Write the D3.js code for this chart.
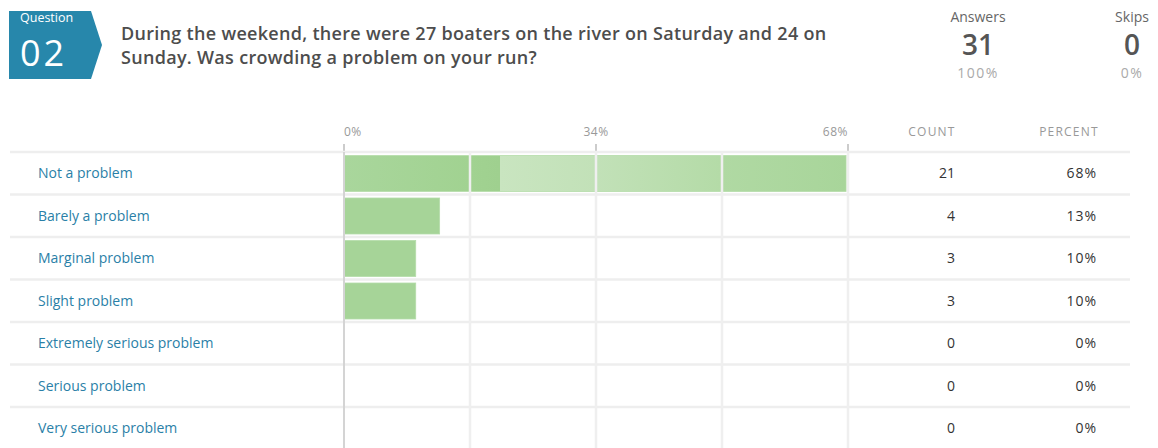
<!DOCTYPE html>
<html>
<head>
<meta charset="utf-8">
<script src="https://cdn.jsdelivr.net/npm/d3@7"></script>
<style>
  body { margin: 0; background: #fff; }
  svg { display: block; }
</style>
</head>
<body>
<script>
let categories = ["Not a problem", "Barely a problem", "Marginal problem", "Slight problem",
                  "Extremely serious problem", "Serious problem", "Very serious problem"];
let counts = [21, 4, 3, 3, 0, 0, 0];
let percents = [68, 13, 10, 10, 0, 0, 0];
let tickValues = [0, 0.34, 0.68];
let answers = 31, skips = 0;
let questionLines = ["During the weekend, there were 27 boaters on the river on Saturday and 24 on",
                     "Sunday. Was crowding a problem on your run?"];

let width = 1158, height = 448;
let font = "'Open Sans', sans-serif";

let svg = d3.select("body").append("svg")
    .attr("width", width)
    .attr("height", height)
    .attr("font-family", font);

let total = d3.sum(counts);

let x = d3.scaleLinear().domain([0, 0.68]).range([344, 848]);
let y = d3.scaleBand().domain(categories).range([152, 152 + 7 * 42.5]);

// gradient seen on the first bar
let grad = svg.append("defs").append("linearGradient")
    .attr("id", "g0").attr("x1", 0).attr("x2", 1).attr("y1", 0).attr("y2", 0);
[[0, "#a9d69c"], [0.25, "#a1d291"], [0.31, "#9fd08f"], [0.311, "#c9e5c0"],
 [0.5, "#c2e1b8"], [0.75, "#b4dba7"], [0.751, "#b0d9a3"], [1, "#a8d59a"]]
  .forEach(function(s) { grad.append("stop").attr("offset", s[0]).attr("stop-color", s[1]); });

// badge
svg.append("path")
    .attr("d", "M9,11 L91,11 L102,45 L91,79 L9,79 Z")
    .attr("fill", "#2787ab");
svg.append("text").attr("x", 20).attr("y", 22)
    .attr("fill", "#fff").attr("font-size", 12.5).text("Question");
svg.append("text").attr("x", 20).attr("y", 66)
    .attr("fill", "#fff").attr("font-size", 36).attr("letter-spacing", 3).text("02");

svg.selectAll(".q").data(questionLines).enter().append("text")
    .attr("class", "q")
    .attr("x", 121)
    .attr("y", function(d, i) { return 40 + i * 24; })
    .attr("fill", "#4d4d4d")
    .attr("font-size", 18)
    .attr("font-weight", 600)
    .attr("letter-spacing", 0.3)
    .text(function(d) { return d; });

// answers / skips
let stats = [{label: "Answers", value: answers, pct: "100%", cx: 978},
             {label: "Skips", value: skips, pct: "0%", cx: 1132}];
let st = svg.selectAll(".stat").data(stats).enter().append("g")
    .attr("class", "stat")
    .attr("text-anchor", "middle")
    .attr("transform", function(d) { return "translate(" + d.cx + ",0)"; });
st.append("text").attr("y", 22).attr("font-size", 14).attr("fill", "#666").text(function(d) { return d.label; });
st.append("text").attr("y", 55).attr("font-size", 28).attr("font-weight", 600).attr("fill", "#555").text(function(d) { return d.value; });
st.append("text").attr("y", 78).attr("font-size", 14).attr("letter-spacing", 1.5).attr("fill", "#aaa").text(function(d) { return d.pct; });

// axis labels
svg.selectAll(".tl").data(tickValues).enter().append("text")
    .attr("class", "tl")
    .attr("x", function(d) { return x(d); })
    .attr("y", 136)
    .attr("font-size", 12)
    .attr("letter-spacing", 0.5)
    .attr("fill", "#999")
    .attr("text-anchor", function(d, i) { return i === 0 ? "start" : i === tickValues.length - 1 ? "end" : "middle"; })
    .text(function(d) { return Math.round(d * 100) + "%"; });
svg.selectAll(".tk").data(tickValues).enter().append("line")
    .attr("x1", function(d) { return x(d); }).attr("x2", function(d) { return x(d); })
    .attr("y1", 144).attr("y2", 152)
    .attr("stroke", "#ccc").attr("stroke-width", 2);

svg.append("text").attr("x", 932).attr("y", 136).attr("text-anchor", "middle")
    .attr("font-size", 12).attr("fill", "#999").attr("letter-spacing", 1.2).text("COUNT");
svg.append("text").attr("x", 1069).attr("y", 136).attr("text-anchor", "middle")
    .attr("font-size", 12).attr("fill", "#999").attr("letter-spacing", 1.2).text("PERCENT");

// bars
svg.selectAll(".bar").data(categories).enter().append("rect")
    .attr("class", "bar")
    .attr("x", x(0))
    .attr("y", function(d) { return y(d) + 3.5; })
    .attr("width", function(d, i) { return x(counts[i] / total) - x(0); })
    .attr("height", y.bandwidth() - 6.5)
    .attr("fill", function(d, i) { return i === 0 ? "url(#g0)" : "#a6d498"; })
    .attr("stroke", "#b5dcaa").attr("stroke-width", 0.8);

// row lines
svg.selectAll(".row").data(categories).enter().append("line")
    .attr("x1", 10).attr("x2", 1130)
    .attr("y1", function(d) { return y(d); }).attr("y2", function(d) { return y(d); })
    .attr("stroke", "#eeeeee").attr("stroke-width", 2.5);

// vertical grid
let grid = [0.17, 0.34, 0.51, 0.68];
svg.selectAll(".grid").data(grid).enter().append("line")
    .attr("x1", function(d) { return x(d); }).attr("x2", function(d) { return x(d); })
    .attr("y1", 152).attr("y2", height)
    .attr("stroke", "#efefef").attr("stroke-width", 2.5);
svg.append("line")
    .attr("x1", x(0)).attr("x2", x(0)).attr("y1", 152).attr("y2", height)
    .attr("stroke", "#d4d4d4").attr("stroke-width", 2);

// labels and values
let rows = svg.selectAll(".lab").data(categories).enter().append("g")
    .attr("transform", function(d) { return "translate(0," + (y(d) + y.bandwidth() / 2 + 5) + ")"; });
rows.append("text").attr("x", 38).attr("font-size", 14).attr("fill", "#2a7fa7")
    .text(function(d) { return d; });
rows.append("text").attr("x", 955).attr("text-anchor", "end").attr("font-size", 14).attr("fill", "#333")
    .text(function(d, i) { return counts[i]; });
rows.append("text").attr("x", 1097).attr("text-anchor", "end").attr("font-size", 14)
    .attr("letter-spacing", 1).attr("fill", "#333")
    .text(function(d, i) { return percents[i] + "%"; });
</script>
</body>
</html>
